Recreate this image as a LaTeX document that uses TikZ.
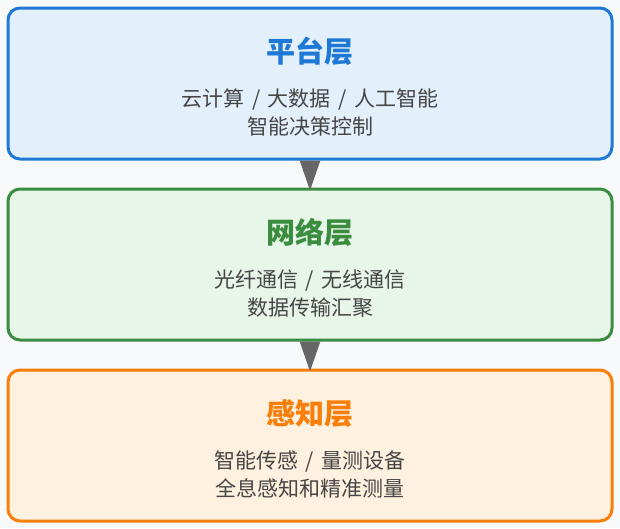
\documentclass[tikz,border=0pt]{standalone}
\usepackage{xcolor}
\usepackage{fontspec}
\setmainfont{Noto Sans CJK SC}
\usepackage{tikz}
\usetikzlibrary{calc,arrows.meta}
\definecolor{bg}{HTML}{F8F9FA}
\definecolor{ink}{HTML}{454545}
\definecolor{arrowgray}{HTML}{666666}
\definecolor{blueline}{HTML}{1E78D6}
\definecolor{bluefill}{HTML}{E3F0FC}
\definecolor{greenline}{HTML}{3A8C3F}
\definecolor{greenfill}{HTML}{E8F5E9}
\definecolor{orangeline}{HTML}{FA7F0A}
\definecolor{orangefill}{HTML}{FFF1DF}
\newcommand{\slsep}{\hspace{7.5pt}/\hspace{7.5pt}}
\tikzset{
  layer/.style={rectangle, rounded corners=12pt, line width=3pt, minimum width=604pt, minimum height=151pt, inner sep=0pt},
  ttl/.style={font=\fontsize{29}{34}\selectfont\bfseries, inner sep=0pt},
  desc/.style={text=ink, font=\fontsize{21}{28}\selectfont, align=center, inner sep=0pt},
  flow/.style={draw=arrowgray, line width=2.5pt, -{Triangle[length=30pt,width=20pt]}, shorten >=-3pt},
}

\begin{document}
\begin{tikzpicture}[x=1pt,y=1pt]
  \fill[bg] (0,0) rectangle (620,-528);
  \useasboundingbox (0,0) rectangle (620,-528);
  % three layers
  \node[layer, draw=blueline, fill=bluefill] (plat) at (310,-83.5) {};
  \node[layer, draw=greenline, fill=greenfill] (net) at (310,-264.5) {};
  \node[layer, draw=orangeline, fill=orangefill] (sense) at (310,-445.5) {};
  % texts
  \node[ttl, text=blueline] (platT) at ($(plat.north)+(0,-45)$) {平台层};
  \node[desc] (platD) at ($(plat.north)+(0,-106)$) {云计算\slsep 大数据\slsep 人工智能\\智能决策控制};
  \node[ttl, text=greenline] (netT) at ($(net.north)+(0,-45)$) {网络层};
  \node[desc] (netD) at ($(net.north)+(0,-106)$) {光纤通信\slsep 无线通信\\数据传输汇聚};
  \node[ttl, text=orangeline] (senseT) at ($(sense.north)+(0,-45)$) {感知层};
  \node[desc] (senseD) at ($(sense.north)+(0,-106)$) {智能传感\slsep 量测设备\\全息感知和精准测量};
  % arrows
  \draw[flow] (plat.south) -- (net.north);
  \draw[flow] (net.south) -- (sense.north);
\end{tikzpicture}
\end{document}
